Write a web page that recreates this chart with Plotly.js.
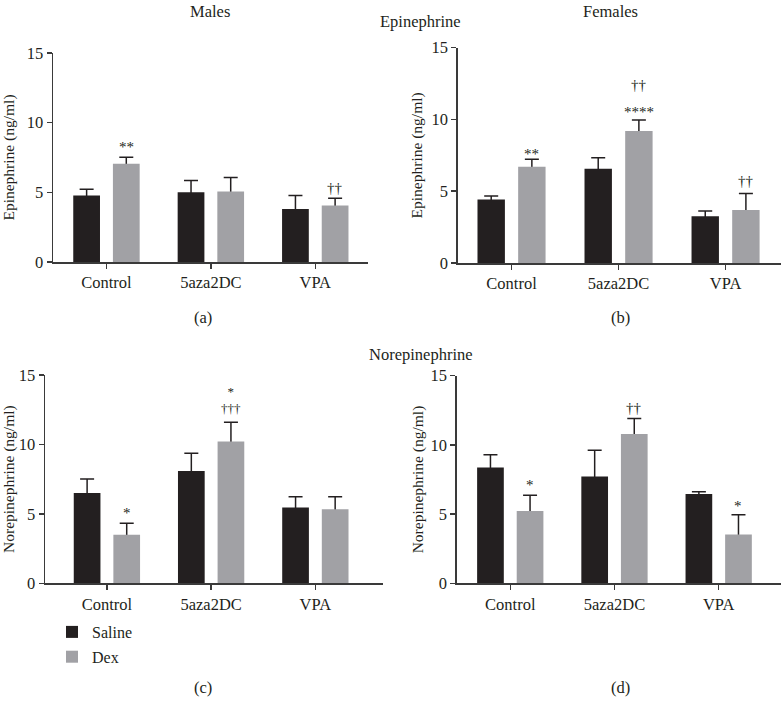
<!DOCTYPE html>
<html><head><meta charset="utf-8">
<script src="https://cdn.plot.ly/plotly-3.0.1.min.js"></script>
<style>html,body{margin:0;padding:0;background:#fff}#chart{width:781px;height:701px}</style>
</head><body><div id="chart"></div>
<script>
// ---------- data ----------
const categories = ['Control', '5aza2DC', 'VPA'];
const seriesNames = ['Saline', 'Dex'];

// (a) Epinephrine, males
const epiMaleSaline    = [4.77, 5.01, 3.81];
const epiMaleSalineErr = [0.45, 0.84, 0.96];
const epiMaleDex       = [7.05, 5.06, 4.05];
const epiMaleDexErr    = [0.47, 1.00, 0.53];
// (b) Epinephrine, females
const epiFemaleSaline    = [4.43, 6.57, 3.25];
const epiFemaleSalineErr = [0.24, 0.77, 0.37];
const epiFemaleDex       = [6.71, 9.19, 3.69];
const epiFemaleDexErr    = [0.51, 0.77, 1.16];
// (c) Norepinephrine, males
const norMaleSaline    = [6.50, 8.09, 5.45];
const norMaleSalineErr = [1.01, 1.27, 0.79];
const norMaleDex       = [3.50, 10.22, 5.33];
const norMaleDexErr    = [0.82, 1.37, 0.91];
// (d) Norepinephrine, females
const norFemaleSaline    = [8.36, 7.71, 6.45];
const norFemaleSalineErr = [0.93, 1.90, 0.17];
const norFemaleDex       = [5.23, 10.79, 3.52];
const norFemaleDexErr    = [1.13, 1.11, 1.44];

// significance marks above the Dex bars (group index, label, px lift of label centre above error cap, font size)
const sigA = [{g:0, t:'**', dy:13}, {g:2, t:'††', dy:10}];
const sigB = [{g:0, t:'**', dy:8}, {g:1, t:'****', dy:11}, {g:1, t:'††', dy:35}, {g:2, t:'††', dy:12}];
const sigC = [{g:0, t:'*', dy:13}, {g:1, t:'*<br>†††', dy:22, fs:13}];
const sigD = [{g:0, t:'*', dy:13}, {g:1, t:'††', dy:11}, {g:2, t:'*', dy:12}];

// ---------- styling ----------
const DARK = '#231f20';
const GRAY = '#a1a1a5';
const AXC = '#3a3a3a';
const FONT = 'Liberation Serif, Times New Roman, serif';
const W = 781, H = 701;

const panels = [
  {sal:epiMaleSaline, salE:epiMaleSalineErr, dex:epiMaleDex, dexE:epiMaleDexErr, sig:sigA,
   xa:'x', ya:'y', ytitle:'Epinephrine (ng/ml)', xdom:[53, 368], xr:[-0.512, 2.505], ydom:[53, 262], stand:12},
  {sal:epiFemaleSaline, salE:epiFemaleSalineErr, dex:epiFemaleDex, dexE:epiFemaleDexErr, sig:sigB,
   xa:'x2', ya:'y2', ytitle:'Epinephrine (ng/ml)', xdom:[457.7, 781], xr:[-0.503, 2.518], ydom:[47.7, 263], stand:5},
  {sal:norMaleSaline, salE:norMaleSalineErr, dex:norMaleDex, dexE:norMaleDexErr, sig:sigC,
   xa:'x3', ya:'y3', ytitle:'Norepinephrine (ng/ml)', xdom:[45, 383], xr:[-0.594, 2.649], ydom:[375, 583.3], stand:6},
  {sal:norFemaleSaline, salE:norFemaleSalineErr, dex:norFemaleDex, dexE:norFemaleDexErr, sig:sigD,
   xa:'x4', ya:'y4', ytitle:'Norepinephrine (ng/ml)', xdom:[456.7, 781], xr:[-0.514, 2.598], ydom:[375.7, 583.3], stand:3}
];

const data = [];
const annotations = [];
const layout = {
  width: W, height: H,
  margin: {l:0, r:0, t:0, b:0},
  paper_bgcolor: '#ffffff', plot_bgcolor: 'rgba(0,0,0,0)',
  font: {family: FONT, size: 16, color: DARK},
  barmode: 'group', bargap: 0.24, bargroupgap: 0.326,
  showlegend: true,
  legend: {x: 52/W, xanchor: 'left', y: 1 - 615/H, yanchor: 'top',
           font: {size: 16, family: FONT, color: DARK}, bgcolor: 'rgba(0,0,0,0)',
           tracegroupgap: 1, traceorder: 'grouped'},
  annotations: annotations
};

const DEX_OFF = 0.19;

panels.forEach((p, i) => {
  const suffix = i === 0 ? '' : String(i + 1);
  // carrier traces: their error bars sit beneath the visible bars, so only the part above each bar shows
  data.push({type:'bar', x:categories, y:p.sal, xaxis:p.xa, yaxis:p.ya, offsetgroup:'s',
    marker:{color:'rgba(0,0,0,0)'}, showlegend:false, hoverinfo:'skip',
    error_y:{type:'data', symmetric:false, array:p.salE, arrayminus:p.sal, color:DARK, thickness:1.5, width:7}});
  data.push({type:'bar', x:categories, y:p.dex, xaxis:p.xa, yaxis:p.ya, offsetgroup:'d',
    marker:{color:'rgba(0,0,0,0)'}, showlegend:false, hoverinfo:'skip',
    error_y:{type:'data', symmetric:false, array:p.dexE, arrayminus:p.dex, color:DARK, thickness:1.5, width:7}});
  // visible bars
  data.push({type:'bar', name:seriesNames[0], legendgroup:'saline', x:categories, y:p.sal,
    xaxis:p.xa, yaxis:p.ya, offsetgroup:'s', marker:{color:DARK, line:{width:0}}, showlegend:i === 0});
  data.push({type:'bar', name:seriesNames[1], legendgroup:'dex', x:categories, y:p.dex,
    xaxis:p.xa, yaxis:p.ya, offsetgroup:'d', marker:{color:GRAY, line:{width:0}}, showlegend:i === 0});

  const common = {showgrid:false, zeroline:false, showline:true, linecolor:AXC, linewidth:1.5,
    ticks:'outside', ticklen:5, tickwidth:1.5, tickcolor:AXC, tickfont:{size:16.5, family:FONT, color:DARK},
    fixedrange:true};
  layout['xaxis' + suffix] = Object.assign({}, common, {
    type:'category', domain:[p.xdom[0]/W, p.xdom[1]/W], range:p.xr, anchor:p.ya});
  layout['yaxis' + suffix] = Object.assign({}, common, {
    domain:[1 - p.ydom[1]/H, 1 - p.ydom[0]/H], range:[0, 15], tickvals:[0, 5, 10, 15], anchor:p.xa,
    title:{text:p.ytitle, font:{size:15.5, family:FONT, color:DARK}, standoff:p.stand}});

  p.sig.forEach(s => {
    const isStarOnly = /^\*+$/.test(s.t);
    annotations.push({xref:p.xa, yref:p.ya, x:s.g + DEX_OFF, y:p.dex[s.g] + p.dexE[s.g],
      text:s.t, showarrow:false, xanchor:'center', yanchor:'middle',
      yshift: s.dy - (isStarOnly ? 3 : 0), font:{size:s.fs || 15, family:FONT, color:DARK}});
  });
});

// titles and panel letters (top titles hang from the top edge)
const labels = [
  {t:'Males', x:210, y:0, a:'top'}, {t:'Females', x:610, y:0, a:'top'},
  {t:'Epinephrine', x:420, y:22, a:'middle'}, {t:'Norepinephrine', x:421, y:354, a:'middle'},
  {t:'(a)', x:203, y:317, a:'middle'}, {t:'(b)', x:620, y:317, a:'middle'},
  {t:'(c)', x:203, y:687, a:'middle'}, {t:'(d)', x:620, y:687, a:'middle'}
];
labels.forEach(l => annotations.push({xref:'paper', yref:'paper', x:l.x/W, y:1 - l.y/H,
  text:l.t, showarrow:false, xanchor:'center', yanchor:l.a, font:{size:16.5, family:FONT, color:DARK}}));

Plotly.newPlot('chart', data, layout, {displayModeBar:false, staticPlot:true});
</script>
</body></html>
